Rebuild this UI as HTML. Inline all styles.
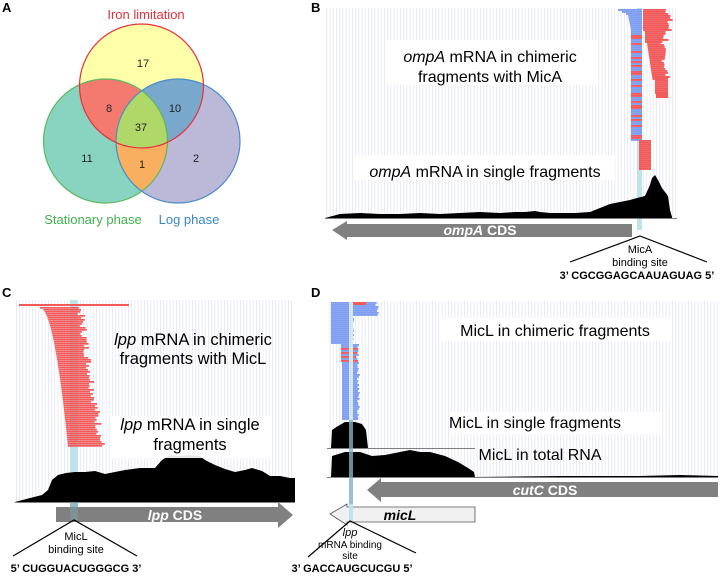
<!DOCTYPE html>
<html><head><meta charset="utf-8"><style>
html,body{margin:0;padding:0;background:#fff}
svg{display:block}
text{font-family:"Liberation Sans",Arial,sans-serif}
</style></head><body>
<svg id="s" width="725" height="576" viewBox="0 0 725 576" xmlns="http://www.w3.org/2000/svg">
<defs>
<pattern id="grid" width="3.2" height="10" patternUnits="userSpaceOnUse"><rect x="0" y="0" width="0.8" height="10" fill="#e3e6f3"/></pattern>
<clipPath id="cy"><circle cx="141.5" cy="86" r="62"/></clipPath>
<clipPath id="cg"><circle cx="105.5" cy="141" r="62"/></clipPath>
<clipPath id="cb"><circle cx="178" cy="141" r="62"/></clipPath>
</defs>
<!-- Panel A -->
<text x="2" y="12" font-size="13" font-weight="bold">A</text>
<circle cx="141.5" cy="86" r="62" fill="#ffffaa"/>
<circle cx="105.5" cy="141" r="62" fill="#88d4c0"/>
<circle cx="178" cy="141" r="62" fill="#bcb8d8"/>
<g clip-path="url(#cy)"><circle cx="105.5" cy="141" r="62" fill="#f47a70"/><circle cx="178" cy="141" r="62" fill="#78a8cc"/></g>
<g clip-path="url(#cg)"><circle cx="178" cy="141" r="62" fill="#f8b060"/></g>
<g clip-path="url(#cg)"><g clip-path="url(#cb)"><circle cx="141.5" cy="86" r="62" fill="#b0d868"/></g></g>
<circle cx="105.5" cy="141" r="62" fill="none" stroke="#5cb85c" stroke-width="1.2"/>
<circle cx="178" cy="141" r="62" fill="none" stroke="#4a8cc8" stroke-width="1.2"/>
<circle cx="141.5" cy="86" r="62" fill="none" stroke="#e8303a" stroke-width="1.2"/>
<g font-size="11" fill="#222" text-anchor="middle">
<text x="143" y="67">17</text><text x="109" y="112">8</text><text x="175" y="112">10</text>
<text x="141" y="131">37</text><text x="87" y="162">11</text><text x="142" y="168">1</text><text x="196" y="162">2</text>
</g>
<text x="146" y="19" font-size="13" fill="#e8303a" text-anchor="middle">Iron limitation</text>
<text x="93" y="224" font-size="13" fill="#3cb44b" text-anchor="middle">Stationary phase</text>
<text x="189" y="224" font-size="13" fill="#3a86c8" text-anchor="middle">Log phase</text>

<!-- Panel B -->
<text x="311" y="12" font-size="13" font-weight="bold">B</text>
<rect x="326" y="8" width="350" height="210" fill="url(#grid)"/>
<rect x="637" y="8" width="5" height="222" fill="#bfe3ea"/>
<g id="readsB"></g>
<polygon fill="#000" points="325,218 340,214 360,213 380,214 400,214 420,213 440,214 460,213 480,212 500,213 515,212 525,212 535,211 540,212 550,213 560,213 575,213 590,212 600,208 610,204 620,202 630,200 637,198 645,196 650,185 652,178 655,175 658,180 662,188 668,196 670,210 672,217 672,218"/>
<line x1="325" y1="218.5" x2="677" y2="218.5" stroke="#555" stroke-width="0.8"/>
<polygon fill="#808080" points="332,230 347,221 347,224 632,224 632,237 347,237 347,240"/>
<text x="480" y="235" font-size="14" font-weight="bold" fill="#fff" text-anchor="middle"><tspan font-style="italic">ompA</tspan> CDS</text>
<polyline points="570,262 640,236 707,262" fill="none" stroke="#000" stroke-width="1.2"/>
<text x="640" y="253" font-size="11" text-anchor="middle">MicA</text>
<text x="640" y="266" font-size="11" text-anchor="middle">binding site</text>
<text x="637" y="279" font-size="11" font-weight="bold" text-anchor="middle">3’ CGCGGAGCAAUAGUAG 5’</text>
<rect x="385" y="40" width="212" height="45" fill="#fff" opacity="0.9"/>
<text x="490" y="62" font-size="16" text-anchor="middle"><tspan font-style="italic">ompA</tspan> mRNA in chimeric</text>
<text x="490" y="82" font-size="16" text-anchor="middle">fragments with MicA</text>
<rect x="355" y="155" width="260" height="25" fill="#fff" opacity="0.9"/>
<text x="485" y="177" font-size="16" text-anchor="middle"><tspan font-style="italic">ompA</tspan> mRNA in single fragments</text>

<!-- Panel C -->
<text x="2" y="297" font-size="13" font-weight="bold">C</text>
<rect x="16" y="300" width="278" height="202" fill="url(#grid)"/>
<rect x="70" y="300" width="8" height="220" fill="#bfe3ea"/>
<g id="readsC"></g>
<polygon fill="#000" points="15,502 30,498 42,495 48,490 52,480 58,475 66,473 75,472 85,472 95,471 105,474 115,472 125,470 140,468 155,468 162,460 170,455 180,456 190,455 200,456 205,460 215,465 225,469 235,472 245,470 252,468 262,471 270,476 280,476 290,478 295,478 295,502"/>
<line x1="15" y1="502.5" x2="295" y2="502.5" stroke="#555" stroke-width="0.8"/>
<polygon fill="#808080" points="56,507 278,507 278,502 293,515 278,528 278,522 56,522"/>
<text x="175" y="520" font-size="14" font-weight="bold" fill="#fff" text-anchor="middle"><tspan font-style="italic">lpp</tspan> CDS</text>
<rect x="70" y="502" width="8" height="18" fill="#7a9ea6" opacity="0.6"/>
<polyline points="13,556 74,520 137,556" fill="none" stroke="#000" stroke-width="1.2"/>
<text x="76" y="540" font-size="11" text-anchor="middle">MicL</text>
<text x="76" y="553" font-size="11" text-anchor="middle">binding site</text>
<text x="76" y="572" font-size="11" font-weight="bold" text-anchor="middle">5’ CUGGUACUGGGCG 3’</text>
<text x="193" y="345" font-size="16.5" text-anchor="middle"><tspan font-style="italic">lpp</tspan> mRNA  in chimeric</text>
<text x="193" y="364" font-size="16.5" text-anchor="middle">fragments with MicL</text>
<rect x="110" y="416" width="160" height="42" fill="#fff" opacity="0.9"/>
<text x="190" y="430" font-size="16.5" text-anchor="middle"><tspan font-style="italic">lpp</tspan> mRNA in single</text>
<text x="190" y="450" font-size="16.5" text-anchor="middle">fragments</text>

<!-- Panel D -->
<text x="311" y="297" font-size="13" font-weight="bold">D</text>
<rect x="328" y="302" width="390" height="175" fill="url(#grid)"/>
<g id="readsD"></g>
<polygon fill="#000" points="331,448 332,430 338,426 345,422 355,422 362,424 366,430 368,448"/>
<line x1="327" y1="448.5" x2="475" y2="448.5" stroke="#555" stroke-width="0.8"/>
<polygon fill="#000" points="331,477 332,456 345,452 360,452 372,456 385,455 400,452 410,450 420,452 430,452 445,456 458,462 468,468 474,472 475,477"/>
<polygon fill="#000" points="475,477 560,476 640,476 680,475 718,476 718,477"/>
<line x1="327" y1="477.5" x2="718" y2="477.5" stroke="#555" stroke-width="0.8"/>
<rect x="349" y="420" width="4" height="100" fill="#7fb3c0" opacity="0.8"/>
<polygon fill="#808080" points="367,490 381,478 381,482 718,482 718,497 381,497 381,502"/>
<text x="545" y="495" font-size="14" font-weight="bold" fill="#fff" text-anchor="middle"><tspan font-style="italic">cutC</tspan> CDS</text>
<polygon fill="#f0f0f0" stroke="#555" stroke-width="0.8" points="330,514 347,504 347,507 475,507 475,522 347,522 347,525"/>
<rect x="349" y="504" width="4" height="17" fill="#bfe3ea"/>
<text x="400" y="520" font-size="14" font-weight="bold" font-style="italic" text-anchor="middle">micL</text>
<polyline points="308,557 350,521 416,553" fill="none" stroke="#000" stroke-width="1.2"/>
<text x="350" y="536" font-size="11" font-style="italic" text-anchor="middle">lpp</text>
<text x="350" y="548" font-size="10" text-anchor="middle">mRNA binding</text>
<text x="350" y="559" font-size="10" text-anchor="middle">site</text>
<text x="352" y="572" font-size="11" font-weight="bold" text-anchor="middle">3’ GACCAUGCUCGU 5’</text>
<rect x="440" y="318" width="230" height="24" fill="#fff" opacity="0.9"/>
<text x="555" y="336" font-size="16" text-anchor="middle">MicL in chimeric fragments</text>
<rect x="450" y="412" width="210" height="22" fill="#fff" opacity="0.9"/>
<text x="535" y="428" font-size="16" text-anchor="middle">MicL in single fragments</text>
<text x="540" y="460" font-size="16" text-anchor="middle">MicL in total RNA</text>
</svg>
<script>
var NS="http://www.w3.org/2000/svg";
function r(g,x,y,w,h,c){var e=document.createElementNS(NS,"rect");e.setAttribute("x",x);e.setAttribute("y",y);e.setAttribute("width",w);e.setAttribute("height",h);e.setAttribute("fill",c);document.getElementById(g).appendChild(e);}
var seed=7;function rnd(){seed=(seed*9301+49297)%233280;return seed/233280;}
var RED="#f25a5a",BLUE="#7f9ef2";
// B
for(var y=9;y<140;y+=2){var l=y<14?618+(y-9)*2:(y<30?628+(y-14)*0.2:631);var c=(y>30&&rnd()<0.35)?RED:BLUE;r("readsB",l,y,642-l,1.9,c);}
for(var y=9;y<31;y+=2){r("readsB",643,y,22+rnd()*8,1.9,RED);}
for(var y=31;y<42;y+=2){r("readsB",645,y,16+rnd()*10,1.9,RED);}
for(var y=42;y<80;y+=2){var l=647+(y-42)*0.15;r("readsB",l,y,12+rnd()*6,1.9,RED);}
for(var y=76;y<93;y+=2){r("readsB",655,y,13,1.9,RED);}
r("readsB",656,93,12,5,RED);
for(var y=140;y<170;y+=2){r("readsB",639,y,12,1.9,RED);}
// C
r("readsC",19,304,110,2,RED);
for(var y=307;y<446;y+=2){var t=(y-307)/139;var l=40+Math.sqrt(t)*28;var rr=80+t*22+(rnd()-0.5)*8;r("readsC",l,y,rr-l,1.7,RED);}
// D
for(var y=302;y<344;y+=2){var rr=y<315?375+rnd()*4:351+rnd()*3;r("readsD",331,y,rr-331,1.9,BLUE);}
r("readsD",349,302,17,3,RED);
for(var y=344;y<362;y+=2){r("readsD",341,y,15+rnd()*3,1.9,(y>346&&y<361&&rnd()<0.6)?RED:BLUE);}
for(var y=362;y<420;y+=2){r("readsD",342,y,15+rnd()*3,1.9,BLUE);}
r("readsD",349,302,4,120,"#cfe9ee");
</script>
</body></html>
